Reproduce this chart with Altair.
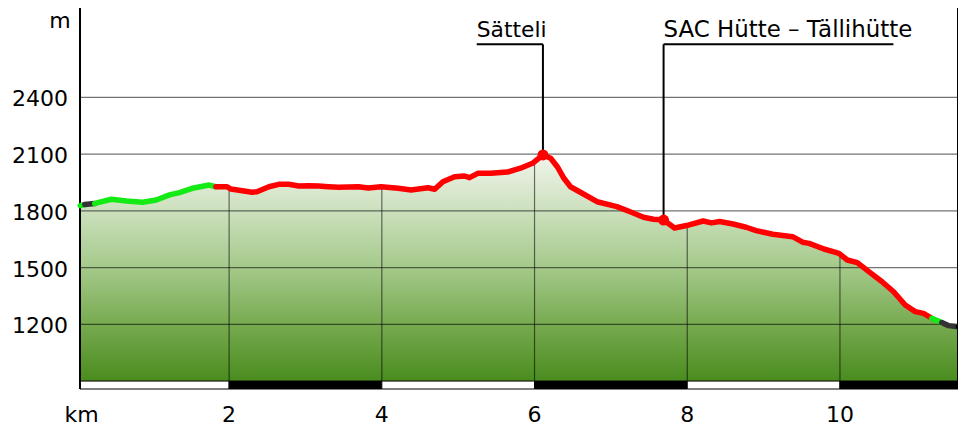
import altair as alt
import pandas as pd

# ---- data ----
km = [0.05, 0.11, 0.24, 0.28, 0.46, 0.655, 0.867, 1.046, 1.219, 1.349, 1.518, 1.74, 1.827, 1.974,
      2.022, 2.30, 2.365, 2.521, 2.65, 2.78, 2.91, 3.042, 3.172, 3.30, 3.433, 3.563, 3.693, 3.823,
      3.99, 4.214, 4.383, 4.605, 4.692, 4.80, 4.953, 5.083, 5.148, 5.256, 5.426, 5.647, 5.816, 5.973,
      6.11, 6.211, 6.298, 6.385, 6.471, 6.60, 6.819, 7.079, 7.252, 7.427, 7.557, 7.69, 7.834, 7.99,
      8.208, 8.316, 8.424, 8.599, 8.772, 8.902, 9.12, 9.38, 9.51, 9.596, 9.79, 9.987, 10.096, 10.227,
      10.378, 10.552, 10.703, 10.855, 10.986, 11.094, 11.203, 11.333, 11.42, 11.546]
elev = [1827, 1833, 1838, 1843, 1861, 1852, 1845, 1857, 1884, 1896, 1919, 1936, 1927, 1927,
        1915, 1898, 1901, 1927, 1940, 1940, 1931, 1933, 1931, 1927, 1924, 1926, 1927, 1920,
        1927, 1919, 1910, 1922, 1914, 1954, 1980, 1984, 1975, 1998, 1998, 2005, 2025, 2051,
        2095, 2078, 2033, 1972, 1927, 1898, 1848, 1822, 1795, 1766, 1755, 1751, 1709, 1722,
        1746, 1736, 1743, 1730, 1713, 1695, 1676, 1663, 1634, 1628, 1598, 1575, 1540, 1526,
        1478, 1425, 1372, 1302, 1267, 1258, 1232, 1209, 1193, 1187]

seg_breaks = [0.05, 0.11, 0.24, 1.827, 11.203, 11.333, 11.546]
seg_kind = ["green", "dark", "green", "red", "green", "dark"]
kind_names = ["green", "dark", "red"]
kind_colors = ["#14ea14", "#333333", "#ff0000"]

y_ticks = [1200, 1500, 1800, 2100, 2400]
x_ticks = [2, 4, 6, 8, 10]
grid_top = [1917, 1925, 2060, 1722, 1573]

bar_start = [0.047, 2, 4, 6, 8, 10]
bar_end = [2, 4, 6, 8, 10, 11.546]
bar_fill = ["white", "black", "white", "black", "white", "black"]

poi_names = ["Sätteli", "SAC Hütte – Tällihütte"]
poi_km = [6.11, 7.69]
poi_elev = [2095, 1751]
poi_label_km = [5.243, 7.69]
poi_line_end_km = [6.11, 10.70]
POI_LINE_ELEV = 2680
POI_TEXT_ELEV = 2719

XMIN, XMAX = 0.047, 11.546
YMIN, YMAX = 858, 2872
BASE = 900
FONT = "DejaVu Sans"

# ---- tables ----
prof = pd.DataFrame({"km": km, "elev": elev})
rows = []
for i, kind in enumerate(seg_kind):
    a, b = seg_breaks[i], seg_breaks[i + 1]
    for k, e in zip(km, elev):
        if a - 1e-9 <= k <= b + 1e-9:
            rows.append({"km": k, "elev": e, "seg": i, "kind": kind})
segs = pd.DataFrame(rows)

xs = alt.Scale(domain=[XMIN, XMAX], nice=False, zero=False)
ys = alt.Scale(domain=[YMIN, YMAX], nice=False, zero=False)
AX = alt.Axis(title="", labels=False, ticks=False, domain=False, grid=False)


def X(f):
    return alt.X(f, scale=xs, axis=AX)


def Y(f):
    return alt.Y(f, scale=ys, axis=AX)


grad = alt.Gradient(
    gradient="linear",
    stops=[
        alt.GradientStop(color="#f0f5ec", offset=0),
        alt.GradientStop(color="#d3e4c6", offset=0.2),
        alt.GradientStop(color="#a4c98a", offset=0.5),
        alt.GradientStop(color="#77aa50", offset=0.75),
        alt.GradientStop(color="#4a8c1e", offset=1),
    ],
    x1=0, x2=0, y1=0, y2=1,
)

area = alt.Chart(prof).mark_area(color=grad, interpolate="linear").encode(
    x=X("km:Q"), y=Y("elev:Q"), y2=alt.datum(BASE))

hgrid = alt.Chart(pd.DataFrame({"y": y_ticks})).mark_rule(
    color="black", opacity=0.55, strokeWidth=1.2).encode(y=Y("y:Q"))

vgrid = alt.Chart(pd.DataFrame({"x": x_ticks, "top": grid_top})).mark_rule(
    color="black", opacity=0.55, strokeWidth=1.2).encode(
    x=X("x:Q"), y=Y("top:Q"), y2=alt.datum(BASE))

bar = alt.Chart(pd.DataFrame({"s": bar_start, "e": bar_end, "f": bar_fill})).mark_rect(
    stroke="black", strokeWidth=1).encode(
    x=X("s:Q"), x2="e:Q", y=alt.datum(YMIN), y2=alt.datum(BASE),
    fill=alt.Fill("f:N", scale=None))

frame = alt.Chart(pd.DataFrame({"x": [XMIN, XMAX]})).mark_rule(
    color="black", strokeWidth=2).encode(x=X("x:Q"))

lines = alt.Chart(segs).mark_line(strokeWidth=5.5, strokeCap="round", strokeJoin="round").encode(
    x=X("km:Q"), y=Y("elev:Q"), detail="seg:N", order="km:Q",
    color=alt.Color("kind:N", scale=alt.Scale(domain=kind_names, range=kind_colors), legend=None),
)

end_dot = alt.Chart(pd.DataFrame({"km": [km[-1]], "elev": [elev[-1]]})).mark_point(
    filled=True, color="black", size=22, opacity=1).encode(x=X("km:Q"), y=Y("elev:Q"))

poi = pd.DataFrame({"name": poi_names, "km": poi_km, "elev": poi_elev,
                    "lk": poi_label_km, "le": poi_line_end_km,
                    "ly": [POI_LINE_ELEV] * 2, "ty": [POI_TEXT_ELEV] * 2})

poi_h = alt.Chart(poi).mark_rule(color="black", strokeWidth=2).encode(
    x=X("lk:Q"), x2="le:Q", y=Y("ly:Q"))
poi_v = alt.Chart(poi).mark_rule(color="black", strokeWidth=2).encode(
    x=X("km:Q"), y=Y("ly:Q"), y2="elev:Q")
poi_dot = alt.Chart(poi).mark_point(filled=True, color="#ff0000", size=120, opacity=1).encode(
    x=X("km:Q"), y=Y("elev:Q"))
poi_txt1 = alt.Chart(poi.iloc[[0]]).mark_text(
    align="left", baseline="alphabetic", font=FONT, fontSize=21.8, color="black").encode(
    x=X("lk:Q"), y=Y("ty:Q"), text="name:N")
poi_txt2 = alt.Chart(poi.iloc[[1]]).mark_text(
    align="left", baseline="alphabetic", font=FONT, fontSize=22.9, color="black").encode(
    x=X("lk:Q"), y=Y("ty:Q"), text="name:N")

ylab = alt.Chart(pd.DataFrame({"v": y_ticks})).mark_text(
    align="right", baseline="middle", font=FONT, fontSize=22, color="black", dy=2).encode(
    x=alt.value(-12), y=Y("v:Q"), text="v:N")
xlab = alt.Chart(pd.DataFrame({"v": x_ticks})).mark_text(
    align="center", baseline="alphabetic", font=FONT, fontSize=22, color="black").encode(
    x=X("v:Q"), y=alt.value(413.7), text="v:N")

unit_m = alt.Chart(pd.DataFrame({"t": ["m"]})).mark_text(
    align="center", baseline="alphabetic", font=FONT, fontSize=22, color="black").encode(
    x=alt.value(-20), y=alt.value(20), text="t:N")
unit_km = alt.Chart(pd.DataFrame({"t": ["km"]})).mark_text(
    align="center", baseline="alphabetic", font=FONT, fontSize=22, color="black").encode(
    x=alt.value(1.5), y=alt.value(413.7), text="t:N")

chart = alt.layer(
    area, hgrid, vgrid, bar, frame, lines, end_dot,
    poi_h, poi_v, poi_dot, poi_txt1, poi_txt2, ylab, xlab, unit_m, unit_km
).properties(
    width=878, height=381,
    autosize=alt.AutoSizeParams(type="none"),
    padding={"left": 72, "top": 0, "right": 0, "bottom": 37},
    background="white",
).configure_view(stroke=None)

chart.save("out.html", embed_options={"renderer": "svg", "actions": False})
